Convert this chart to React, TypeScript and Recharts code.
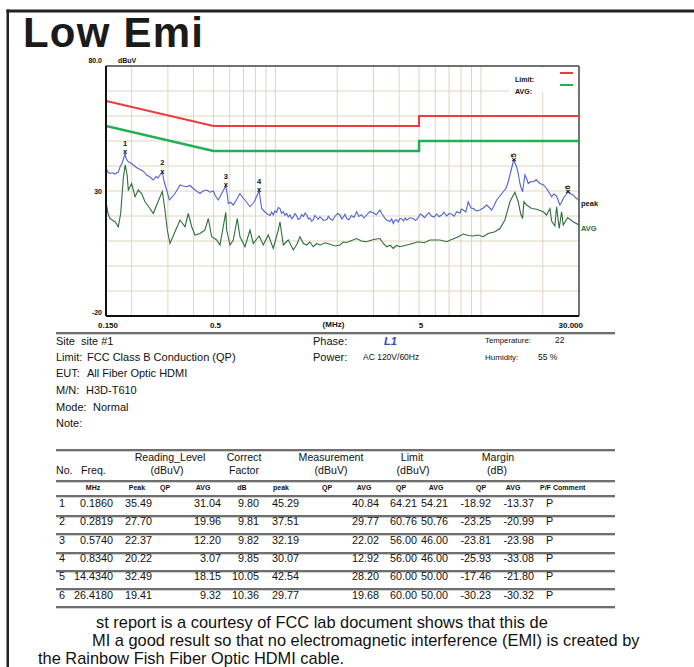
import React from 'react';
import { ComposedChart, Line, Scatter, XAxis, YAxis, ReferenceLine } from 'recharts';

// conducted emission scan, L1, 0.15 - 30 MHz (dBuV)
const peakTrace: [number, number][] = [
  [0.15, 39.2], [0.1534, 37.5], [0.1569, 37.0], [0.162, 37.3], [0.1659, 36.8], [0.1722, 37.6],
  [0.1755, 39.6], [0.1794, 41.0], [0.186, 45.0], [0.1877, 43.0], [0.1926, 41.7], [0.2, 41.0],
  [0.2036, 40.4], [0.2099, 39.5], [0.2195, 38.6], [0.227, 38.0], [0.2366, 36.4], [0.2455, 35.6],
  [0.2548, 34.4], [0.2627, 35.8], [0.2686, 35.2], [0.2746, 36.4], [0.2819, 37.5], [0.2872, 34.0],
  [0.296, 30.4], [0.3048, 26.4], [0.3141, 27.5], [0.3249, 29.0], [0.336, 31.0], [0.3436, 32.4],
  [0.3554, 32.0], [0.3704, 31.7], [0.3843, 32.2], [0.3987, 31.0], [0.4133, 30.0], [0.4298, 29.0],
  [0.4447, 30.0], [0.4633, 30.4], [0.4808, 29.5], [0.4988, 30.0], [0.5115, 28.0], [0.5276, 26.4],
  [0.5438, 28.5], [0.574, 32.0], [0.585, 28.0], [0.5902, 25.0], [0.6048, 25.5], [0.6242, 24.4],
  [0.6468, 26.5], [0.6728, 29.0], [0.6918, 27.5], [0.7115, 26.4], [0.7317, 25.0], [0.7525, 23.7],
  [0.7869, 25.5], [0.834, 30.0], [0.8578, 23.0], [0.8806, 22.0], [0.9072, 21.0], [0.9419, 20.2],
  [0.96, 21.6], [0.9769, 20.4], [0.995, 22.0], [1.0127, 21.5], [1.033, 23.4], [1.053, 23.0],
  [1.072, 21.0], [1.0926, 21.8], [1.113, 20.3], [1.1349, 21.0], [1.156, 19.6], [1.1778, 20.5],
  [1.2, 18.9], [1.222, 19.5], [1.245, 21.0], [1.2672, 20.2], [1.29, 18.6], [1.3175, 19.0],
  [1.343, 20.6], [1.37, 19.8], [1.395, 21.2], [1.4206, 20.4], [1.447, 18.8], [1.4733, 19.2],
  [1.5, 17.9], [1.5288, 18.4], [1.556, 20.2], [1.5846, 19.5], [1.615, 18.7], [1.6482, 19.7],
  [1.715, 18.2], [1.7828, 18.6], [1.81, 19.9], [1.8432, 19.0], [1.895, 18.3], [1.9494, 19.8],
  [2.005, 21.0], [2.0618, 20.4], [2.1, 18.8], [2.1441, 19.5], [2.18, 20.7], [2.2226, 19.0],
  [2.28, 18.5], [2.3454, 20.2], [2.41, 19.4], [2.4861, 21.7], [2.55, 19.8], [2.6235, 20.5],
  [2.7, 19.2], [2.7803, 20.4], [2.88, 21.8], [2.984, 21.3], [3.1, 20.5], [3.2262, 22.4],
  [3.29, 21.0], [3.3555, 20.0], [3.42, 18.9], [3.4788, 18.4], [3.609, 17.8], [3.68, 18.9],
  [3.746, 17.0], [3.81, 18.2], [3.882, 18.5], [3.96, 17.6], [4.0373, 19.0], [4.12, 18.9],
  [4.199, 18.0], [4.28, 19.2], [4.3518, 18.4], [4.43, 18.8], [4.5156, 19.3], [4.6856, 19.0],
  [4.82, 18.2], [4.9553, 19.4], [5.07, 20.8], [5.195, 20.2], [5.32, 19.3], [5.4423, 20.4],
  [5.59, 21.4], [5.746, 20.0], [5.91, 19.6], [6.0899, 20.8], [6.25, 19.8], [6.425, 20.3],
  [6.61, 21.5], [6.8136, 20.0], [7.0, 21.0], [7.189, 20.8], [7.4, 19.9], [7.6194, 21.7],
  [7.905, 21.2], [8.05, 22.8], [8.2008, 22.4], [8.45, 21.6], [8.6739, 25.7], [8.943, 23.2],
  [9.1739, 23.0], [9.512, 22.0], [9.888, 22.4], [10.26, 23.2], [10.66, 24.4], [10.94, 23.5],
  [11.27, 22.4], [11.57, 24.0], [11.92, 26.4], [12.37, 28.0], [12.84, 29.7], [13.23, 31.0],
  [13.58, 33.7], [13.99, 38.0], [14.434, 42.3], [14.63, 41.2], [14.92, 39.7], [15.19, 37.0],
  [15.48, 33.0], [15.65, 31.5], [15.95, 29.7], [16.15, 33.0], [16.37, 36.4], [16.68, 35.0],
  [16.99, 33.0], [17.51, 33.8], [17.96, 33.7], [18.61, 34.5], [19.36, 33.0], [20.09, 32.5],
  [20.88, 31.0], [21.42, 29.5], [22.07, 27.7], [22.65, 28.8], [23.34, 28.0], [23.82, 26.0],
  [24.22, 24.4], [24.69, 25.5], [25.14, 27.0], [25.92, 28.5], [26.418, 29.6], [27.41, 28.8],
  [28.11, 28.4], [28.98, 27.2], [30, 26.4],
];

const avgTrace: [number, number][] = [
  [0.15, 25.7], [0.1534, 21.0], [0.1569, 19.0], [0.162, 18.2], [0.1659, 17.7], [0.1722, 15.7],
  [0.1768, 21.0], [0.1821, 35.0], [0.186, 40.5], [0.19, 36.5], [0.1926, 30.4], [0.2, 33.0],
  [0.2076, 27.7], [0.2154, 30.4], [0.2237, 29.0], [0.2322, 25.7], [0.2455, 23.0], [0.2548, 21.0],
  [0.2664, 25.0], [0.2819, 29.8], [0.2904, 22.4], [0.298, 14.4], [0.3072, 9.0], [0.3249, 13.7],
  [0.3436, 18.4], [0.3634, 15.7], [0.377, 21.0], [0.3917, 15.7], [0.4064, 12.4], [0.4298, 13.0],
  [0.4546, 14.4], [0.4717, 19.0], [0.49, 11.7], [0.5182, 10.4], [0.5377, 8.4], [0.574, 21.5],
  [0.5797, 14.4], [0.6015, 8.4], [0.6242, 10.4], [0.6527, 19.0], [0.6728, 11.7], [0.7115, 7.7],
  [0.7525, 14.4], [0.7808, 9.0], [0.834, 12.0], [0.8733, 8.4], [0.9236, 12.4], [0.9769, 7.0],
  [1.0332, 14.4], [1.053, 17.7], [1.0926, 8.4], [1.1554, 10.4], [1.222, 6.4], [1.27, 8.5],
  [1.3175, 11.7], [1.37, 9.0], [1.4206, 8.4], [1.47, 9.6], [1.5288, 7.7], [1.59, 9.0],
  [1.6482, 8.4], [1.75, 9.3], [1.8432, 8.7], [1.95, 8.0], [2.0618, 8.4], [2.14, 9.6],
  [2.2226, 9.4], [2.35, 10.2], [2.4861, 11.0], [2.62, 10.0], [2.7803, 9.7], [3.0, 10.6],
  [3.2262, 11.0], [3.35, 9.0], [3.4788, 7.7], [3.62, 8.3], [3.746, 7.0], [3.88, 8.2],
  [4.0373, 7.7], [4.3518, 8.4], [4.5156, 8.7], [4.9553, 9.7], [5.3, 9.3], [5.6478, 10.4],
  [6.3191, 10.4], [6.8136, 9.7], [7.2, 10.6], [7.6194, 11.4], [8.2008, 12.8], [8.7, 12.2],
  [9.1739, 12.0], [9.7, 12.4], [10.26, 11.7], [10.85, 13.0], [11.7, 13.7], [12.37, 15.0],
  [13.08, 18.4], [13.84, 25.7], [14.434, 28.6], [14.63, 29.5], [15.19, 25.7], [15.6, 21.0],
  [15.95, 19.0], [16.19, 25.7], [16.68, 24.4], [17.64, 23.0], [18.66, 22.7], [20.09, 21.7],
  [20.87, 20.4], [21.66, 23.0], [22.07, 18.0], [22.9, 16.0], [23.34, 23.7], [24.03, 15.0],
  [24.69, 21.7], [25.14, 16.4], [26.418, 19.4], [28.11, 17.7], [30, 16.4],
];

// FCC Class B conducted limits
const qpLimit: [number, number][] = [[0.15, 66], [0.5, 56], [5, 56], [5, 60], [30, 60]];
const avgLimit: [number, number][] = [[0.15, 56], [0.5, 46], [5, 46], [5, 50], [30, 50]];

const xTicks = [0.15, 0.5, 5, 30];
const xTickText = ['0.150', '0.5', '5', '30.000'];
const yTicks = [80, 30, -20];
const yTickText = ['80.0', '30', '-20'];
const gridFreqs = [0.2, 0.3, 0.4, 0.5, 0.6, 0.7, 0.8, 0.9, 1, 2, 3, 4, 5, 6, 7, 8, 9, 10, 20];
const gridLevels = [70, 60, 50, 40, 30, 20, 10, 0, -10];

// final data table
const markerNo = [1, 2, 3, 4, 5, 6];
const markerFreq = [0.186, 0.2819, 0.574, 0.834, 14.434, 26.418];
const readPeak = [35.49, 27.7, 22.37, 20.22, 32.49, 19.41];
const readAvg = [31.04, 19.96, 12.2, 3.07, 18.15, 9.32];
const corrFactor = [9.8, 9.81, 9.82, 9.85, 10.05, 10.36];
const measPeak = [45.29, 37.51, 32.19, 30.07, 42.54, 29.77];
const measAvg = [40.84, 29.77, 22.02, 12.92, 28.2, 19.68];
const limitQp = [64.21, 60.76, 56.0, 56.0, 60.0, 60.0];
const limitAvg = [54.21, 50.76, 46.0, 46.0, 50.0, 50.0];
const marginQp = [-18.92, -23.25, -23.81, -25.93, -17.46, -30.23];
const marginAvg = [-13.37, -20.99, -23.98, -33.08, -21.8, -30.32];
const passFail = ['P', 'P', 'P', 'P', 'P', 'P'];

const legendItems = [
  { label: 'Limit:', color: '#ef3b3b' },
  { label: 'AVG:', color: '#22b055' },
];

const SANS = "'Liberation Sans', Arial, sans-serif";
const GRID = '#e0d5bf';
const PEAK = '#5262d2';
const AVG = '#2f6e3c';

const toPoints = (arr: [number, number][]) => arr.map(([f, v]) => ({ f, v }));

const XTick = (props: any) => {
  const { x, y, index } = props;
  const last = index === xTicks.length - 1;
  return (
    <text x={x + (last ? 4 : 2)} y={y + 9} textAnchor={last ? 'end' : 'middle'}
      dominantBaseline="central" fontFamily={SANS} fontWeight={700} fontSize={8} fill="#111">
      {xTickText[index]}
    </text>
  );
};

const YTick = (props: any) => {
  const { x, y, index } = props;
  const dy = index === 0 ? -6 : index === yTicks.length - 1 ? -4 : 0;
  return (
    <text x={x} y={y + dy} textAnchor="end" dominantBaseline="central"
      fontFamily={SANS} fontWeight={700} fontSize={7} fill="#111">
      {yTickText[index]}
    </text>
  );
};

const MarkerShape = (props: any) => {
  const { cx, cy, payload } = props;
  const st = { fontFamily: SANS, fontWeight: 700, fontSize: 7.5, fill: '#111' };
  if (payload.n > 4) {
    return (
      <text x={cx} y={cy + 2} transform={`rotate(-90 ${cx} ${cy + 2})`} textAnchor="start"
        dominantBaseline="central" {...st}>
        {'x' + payload.n}
      </text>
    );
  }
  return (
    <g>
      <text x={cx} y={cy - 9.5} textAnchor="middle" dominantBaseline="central" {...st}>{payload.n}</text>
      <text x={cx} y={cy - 1} textAnchor="middle" dominantBaseline="central" {...st}>x</text>
    </g>
  );
};

const endLabel = (text: string, color: string, count: number) => (props: any) => {
  if (props.index !== count - 1) return <g />;
  return (
    <text x={props.x + 2} y={props.y + 3} dominantBaseline="central" fontFamily={SANS}
      fontWeight={700} fontSize={7.5} fill={color}>
      {text}
    </text>
  );
};

const LegendBox = () => (
  <div style={{ position: 'absolute', left: 509, top: 68, width: 68, height: 24, background: '#fff', fontFamily: SANS }}>
    {legendItems.map((it, i) => (
      <div key={it.label} style={{ position: 'absolute', left: 6, top: 0 + i * 12, height: 10, width: 60 }}>
        <span style={{ fontSize: 7, fontWeight: 700, lineHeight: '10px', color: '#111' }}>{it.label}</span>
        <span style={{ position: 'absolute', left: 45, top: 4, width: 13, height: 2, background: it.color }} />
      </div>
    ))}
  </div>
);

const EmiChart = () => (
  <ComposedChart width={694} height={340} margin={{ top: 66, right: 115, bottom: 0, left: 0 }}>
    {gridFreqs.map((f) => (
      <ReferenceLine key={'gx' + f} x={f} stroke={GRID} strokeWidth={1} />
    ))}
    {gridLevels.map((v) => (
      <ReferenceLine key={'gy' + v} y={v} stroke={GRID} strokeWidth={1} />
    ))}
    <ReferenceLine y={80} stroke="#444" strokeWidth={1.5} />
    <ReferenceLine x={30} stroke="#444" strokeWidth={1.5} />
    <XAxis dataKey="f" type="number" scale="log" domain={[0.15, 30]} allowDataOverflow ticks={xTicks}
      interval={0} tick={<XTick />} tickLine={false} tickSize={0} tickMargin={0} height={24}
      axisLine={{ stroke: '#111', strokeWidth: 2 }}
      label={{ value: '(MHz)', position: 'insideTop', offset: 5, dx: -9,
        style: { fontFamily: SANS, fontWeight: 700, fontSize: 8, fill: '#111' } }} />
    <YAxis type="number" domain={[-20, 80]} ticks={yTicks} interval={0} tick={<YTick />}
      tickLine={false} tickSize={0} tickMargin={4} width={106}
      axisLine={{ stroke: '#111', strokeWidth: 2 }} />
    <Line data={toPoints(qpLimit)} dataKey="v" type="linear" stroke="#ef3b3b" strokeWidth={2}
      dot={false} activeDot={false} isAnimationActive={false} legendType="none" />
    <Line data={toPoints(avgLimit)} dataKey="v" type="linear" stroke="#22b055" strokeWidth={2.5}
      dot={false} activeDot={false} isAnimationActive={false} legendType="none" />
    <Line data={toPoints(avgTrace)} dataKey="v" type="linear" stroke={AVG} strokeWidth={1.1}
      dot={false} activeDot={false} isAnimationActive={false} legendType="none"
      label={endLabel('AVG', AVG, avgTrace.length)} />
    <Line data={toPoints(peakTrace)} dataKey="v" type="linear" stroke={PEAK} strokeWidth={1.1}
      dot={false} activeDot={false} isAnimationActive={false} legendType="none"
      label={endLabel('peak', '#111', peakTrace.length)} />
    <Scatter data={markerNo.map((n, i) => ({ n, f: markerFreq[i], v: measPeak[i] }))} dataKey="v"
      shape={<MarkerShape />} isAnimationActive={false} legendType="none" />
  </ComposedChart>
);

const T = (p: any) => (
  <text x={p.x} y={p.y} textAnchor={p.anchor || 'start'} dominantBaseline="central"
    fontFamily={p.family || SANS} fontSize={p.size || 11} fontWeight={p.weight || 400}
    fontStyle={p.italic ? 'italic' : 'normal'} fill={p.color || '#111'}>
    {p.children}
  </text>
);

const Rule = ({ y }: { y: number }) => (
  <g>
    <rect x={56} y={y} width={559} height={2} fill="#6f6f6f" />
    <rect x={56} y={y + 2} width={559} height={1} fill="#cfcfcf" />
  </g>
);

const tableRules = [449, 480, 495, 515, 533, 552, 570, 588, 606];

const Sheet = () => {
  const colRight = [113, 152, 221, 259, 299, 379, 417, 448, 491, 534];
  const rowY = (i: number) => 503 + i * 18.3;
  const sub: [string, number][] = [
    ['MHz', 93], ['Peak', 137], ['QP', 165], ['AVG', 203], ['dB', 242], ['peak', 281], ['QP', 327],
    ['AVG', 364], ['QP', 401], ['AVG', 436], ['QP', 481], ['AVG', 513],
  ];
  return (
    <svg width={694} height={667} style={{ position: 'absolute', left: 0, top: 0, pointerEvents: 'none' }}>
      <rect x={6.5} y={9.5} width={2.5} height={660} fill="#222" />
      <rect x={6.5} y={9.5} width={690} height={3} fill="#222" />
      <text x={23} y={47} fontFamily={SANS} fontWeight={700} fontSize={42} letterSpacing={1.2} fill="#1b1b1b">Low Emi</text>
      <T x={118} y={60} size={7} weight={700}>dBuV</T>

      <Rule y={332} />
      <T x={56} y={341}>Site</T><T x={81} y={341}>site #1</T>
      <T x={56} y={357}>Limit:</T><T x={87} y={357}>FCC Class B Conduction (QP)</T>
      <T x={56} y={373}>EUT:</T><T x={87} y={373}>All Fiber Optic HDMI</T>
      <T x={56} y={390}>M/N:</T><T x={86} y={390}>H3D-T610</T>
      <T x={56} y={407}>Mode:</T><T x={93} y={407}>Normal</T>
      <T x={56} y={423}>Note:</T>
      <T x={313} y={341} size={11}>Phase:</T>
      <T x={384} y={341} size={11} weight={700} italic color="#3246c8">L1</T>
      <T x={485} y={340} size={7.8}>Temperature:</T><T x={555} y={340} size={8.5}>22</T>
      <T x={313} y={357} size={11}>Power:</T>
      <T x={363} y={357} size={8.5}>AC 120V/60Hz</T>
      <T x={485} y={357} size={8}>Humidity:</T><T x={538} y={357} size={8.5}>55 %</T>

      {tableRules.map((y) => <Rule key={y} y={y} />)}
      <T x={56} y={470} size={10.6}>No.</T>
      <T x={81} y={470} size={10.6}>Freq.</T>
      <T x={170} y={457} size={10.6} anchor="middle">Reading_Level</T>
      <T x={167} y={470} size={10.6} anchor="middle">(dBuV)</T>
      <T x={244} y={457} size={10.6} anchor="middle">Correct</T>
      <T x={244} y={470} size={10.6} anchor="middle">Factor</T>
      <T x={331} y={457} size={10.6} anchor="middle">Measurement</T>
      <T x={331} y={470} size={10.6} anchor="middle">(dBuV)</T>
      <T x={412} y={457} size={10.6} anchor="middle">Limit</T>
      <T x={413} y={470} size={10.6} anchor="middle">(dBuV)</T>
      <T x={498} y={457} size={10.6} anchor="middle">Margin</T>
      <T x={497} y={470} size={10.6} anchor="middle">(dB)</T>
      {sub.map(([s, x], i) => <T key={i} x={x} y={487} size={7} weight={700} anchor="middle">{s}</T>)}
      <T x={540} y={487} size={7} weight={700}>P/F</T>
      <T x={553} y={487} size={7} weight={700}>Comment</T>

      {markerNo.map((n, i) => {
        const vals = [
          markerFreq[i].toFixed(4), readPeak[i].toFixed(2), readAvg[i].toFixed(2), corrFactor[i].toFixed(2),
          measPeak[i].toFixed(2), measAvg[i].toFixed(2), limitQp[i].toFixed(2), limitAvg[i].toFixed(2),
          marginQp[i].toFixed(2), marginAvg[i].toFixed(2),
        ];
        return (
          <g key={n}>
            <T x={62} y={rowY(i)} size={10.8} anchor="middle">{n}</T>
            {vals.map((v, j) => <T key={j} x={colRight[j]} y={rowY(i)} size={10.8} anchor="end">{v}</T>)}
            <T x={546} y={rowY(i)} size={10.8}>{passFail[i]}</T>
          </g>
        );
      })}

      <T x={96} y={622} size={16.4}>st report is a courtesy of FCC lab document shows that this de</T>
      <T x={92} y={640} size={16.4}>MI a good result so that no electromagnetic interference (EMI) is created by</T>
      <T x={38} y={658} size={16.4}>the Rainbow Fish Fiber Optic HDMI cable.</T>
    </svg>
  );
};

export default function App() {
  return (
    <div style={{ position: 'absolute', left: 0, top: 0, width: 694, height: 667, background: '#fff', overflow: 'hidden' }}>
      <div style={{ position: 'absolute', left: 0, top: 0 }}>
        <EmiChart />
      </div>
      <LegendBox />
      <Sheet />
    </div>
  );
}
